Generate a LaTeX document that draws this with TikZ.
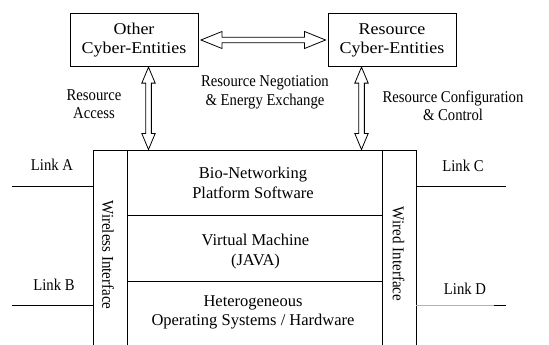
\documentclass[tikz,border=0pt]{standalone}
\usepackage{fontspec}
\setmainfont{Liberation Serif}
\newfontfamily\widefont[FakeStretch=1.09]{Liberation Serif}
\newfontfamily\plainfont{Liberation Serif}
\newfontfamily\narrowfont[FakeStretch=0.89]{Liberation Serif}
\newfontfamily\sidefont[FakeStretch=0.91]{Liberation Serif}
\usetikzlibrary{calc}

\begin{document}
\begin{tikzpicture}[x=1pt,y=-1pt,line width=0.9pt,
  entity/.style={draw,minimum width=128pt,minimum height=53.4pt,align=center,
    inner sep=0pt,font=\widefont\fontsize{16.5}{19}\selectfont},
  layertext/.style={align=center,font=\plainfont\fontsize{16.5}{19.5}\selectfont},
  flowlabel/.style={align=center,font=\narrowfont\fontsize{16.5}{18.5}\selectfont},
  sidetext/.style={rotate=-90,font=\sidefont\fontsize{16.5}{18}\selectfont},
  linklabel/.style={font=\narrowfont\fontsize{16.5}{18}\selectfont},
  hollow/.style={draw,fill=white,line width=0.8pt,line join=miter}]

\useasboundingbox (0,0) rectangle (549,345);

% cyber-entities
\node[entity] (other) at (134,40) {Other\\Cyber-Entities};
\node[entity] (res) at (392,40) {Resource\\Cyber-Entities};

% platform frame
\coordinate (ftl) at (93,150);
\coordinate (ftr) at (416,150);
\coordinate (fbl) at (93,345);
\coordinate (fbr) at (416,345);
\coordinate (itl) at (127,150);
\coordinate (itr) at (382,150);
\coordinate (ibl) at (127,345);
\coordinate (ibr) at (382,345);
\draw (fbl) -- (ftl) -- (ftr) -- (fbr);
\draw (itl) -- (ibl);
\draw (itr) -- (ibr);
\draw (127,215.7) coordinate (d1l) -- (382,215.7) coordinate (d1r);
\draw (127,281.7) coordinate (d2l) -- (382,281.7) coordinate (d2r);

% layers
\node[layertext] (bio) at (253,183) {Bio-Networking\\Platform Software};
\node[layertext] (vm) at (255.5,251.5) {Virtual Machine\\(JAVA)};
\node[layertext] (hw) at (253,312.5) {Heterogeneous\\Operating Systems / Hardware};
\node[sidetext] (wl) at (108,255) {Wireless Interface};
\node[sidetext] (wd) at (398.5,254) {Wired Interface};

% links
\coordinate (la) at (12.2,186);
\coordinate (lb) at (12.2,305);
\coordinate (lc) at (506,186);
\coordinate (ld) at (506,305);
\coordinate (ldg) at (494,305);
\draw (la) -- (la -| ftl);
\draw (lb) -- (lb -| ftl);
\draw (lc -| ftr) -- (lc);
\draw[gray!60,line width=0.7pt] (ld -| ftr) -- (ldg);
\draw (ldg) -- (ld);
\node[linklabel] (tA) at (52,165) {Link A};
\node[linklabel] (tB) at (54,285) {Link B};
\node[linklabel] (tC) at (463,166) {Link C};
\node[linklabel] (tD) at (465,289) {Link D};

% double arrow between the entities
\coordinate (ha) at ($(other.east)+(2.5,0)$);
\coordinate (hb) at ($(res.west)+(-2,0)$);
\draw[hollow] (ha) -- ++(21,-8.5) -- ++(0,5.7) -- ($(hb)+(-21,-2.8)$)
  -- ++(0,-5.7) -- (hb) -- ++(-21,8.5) -- ++(0,-5.7)
  -- ($(ha)+(21,2.8)$) -- ++(0,5.7) -- cycle;

% double arrows down to the platform
\coordinate (va) at (other.south -| 148.5,0);
\coordinate (vb) at (148.5,149.5);
\coordinate (wa) at (res.south -| 361.5,0);
\coordinate (wb) at (361.5,149.5);
\foreach \p/\q in {va/vb,wa/wb}{
  \draw[hollow] (\p) -- ++(6.7,16) -- ++(-3.85,0) -- ($(\q)+(2.85,-16)$)
    -- ++(3.85,0) -- (\q) -- ++(-6.7,-16) -- ++(3.85,0)
    -- ($(\p)+(-2.85,16)$) -- ++(-3.85,0) -- cycle;
}

% arrow labels
\node[flowlabel] (acc) at (94,104) {Resource\\Access};
\node[flowlabel] (neg) at (265,92.5) {Resource Negotiation\\\& Energy Exchange};
\node[flowlabel] (cfg) at (453,106) {Resource Configuration\\\& Control};
\end{tikzpicture}
\end{document}
